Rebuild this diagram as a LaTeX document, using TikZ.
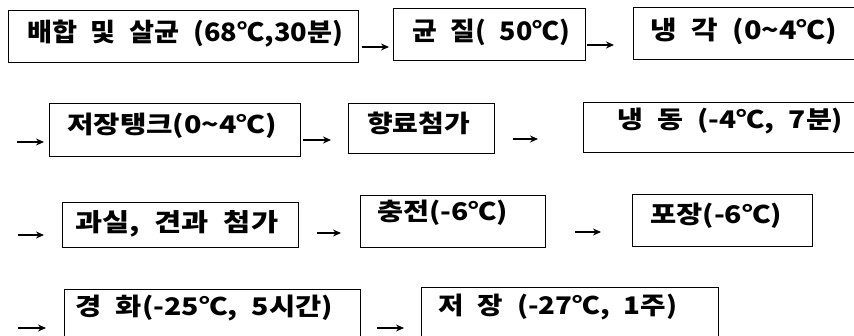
\documentclass[tikz,border=0pt]{standalone}
\usepackage{fontspec}
\usepackage{graphicx}
\newfontfamily\kr{Noto Sans CJK KR}[WordSpace=2.2]
\usetikzlibrary{arrows.meta}
\newcommand\kt[3]{\resizebox{#1pt}{#2pt}{\kr\bfseries #3}}
\newcommand\tld{\string~}
\tikzset{
  box/.style={draw, line width=0.9pt, inner sep=0pt, rectangle},
  txt/.style={anchor=base west, inner sep=0pt},
  arr/.style={line width=1.3pt, -{Stealth[length=8pt,width=7pt]}}
}
\begin{document}
\begin{tikzpicture}[x=1pt,y=1pt]
\useasboundingbox (0,0) rectangle (854,336);
\fill[white] (0,0) rectangle (854,336);
% boxes
\node[box, minimum width=350pt, minimum height=52pt] (b1) at (183,300) {};
\node[box, minimum width=192pt, minimum height=52pt] (b2) at (489,302) {};
\node[box, minimum width=237pt, minimum height=52pt] (b3) at (751.5,303) {};
\node[box, minimum width=251pt, minimum height=53pt] (b4) at (174.5,206.5) {};
\node[box, minimum width=146pt, minimum height=50pt] (b5) at (421,208) {};
\node[box, minimum width=287pt, minimum height=50pt] (b6) at (726.5,209) {};
\node[box, minimum width=236pt, minimum height=45pt] (b7) at (180,111.5) {};
\node[box, minimum width=185pt, minimum height=52pt] (b8) at (452.5,115) {};
\node[box, minimum width=180pt, minimum height=52pt] (b9) at (722,116) {};
\node[box, minimum width=296pt, minimum height=61pt] (b10) at (212,16.5) {};
\node[box, minimum width=297pt, minimum height=63pt] (b11) at (569.5,17.5) {};
% texts
\node[txt] (t1) at (27,294) {\kt{316}{21.5}{배합 및 살균 (68℃,30분)}};
\node[txt] (t2) at (412,295) {\kt{158}{21.5}{균 질( 50℃)}};
\node[txt] (t3) at (650,296) {\kt{187}{21.5}{냉 각 (0\tld 4℃)}};
\node[txt] (t4) at (67,202) {\kt{210}{20.5}{저장탱크(0\tld 4℃)}};
\node[txt] (t5) at (367,203) {\kt{103}{20.5}{향료첨가}};
\node[txt] (t6) at (617,207) {\kt{226}{20.5}{냉 동 (-4℃, 7분)}};
\node[txt] (t7) at (75,104) {\kt{203}{21}{과실, 견과 첨가}};
\node[txt] (t8) at (377,115) {\kt{131}{20.5}{충전(-6℃)}};
\node[txt] (t9) at (650,112) {\kt{132}{20.5}{포장(-6℃)}};
\node[txt] (t10) at (75,20) {\kt{258}{20.5}{경 화(-25℃, 5시간)}};
\node[txt] (t11) at (438,21) {\kt{239}{20.5}{저 장 (-27℃, 1주)}};
% arrow end points
\coordinate (a1s) at (362,289); \coordinate (a1e) at (389,289);
\coordinate (a2s) at (587,291); \coordinate (a2e) at (614,291);
\coordinate (a3s) at (17,194);  \coordinate (a3e) at (44,194);
\coordinate (a4s) at (303,196); \coordinate (a4e) at (331,196);
\coordinate (a5s) at (513,197); \coordinate (a5e) at (538,197);
\coordinate (a6s) at (18,101);  \coordinate (a6e) at (44,101);
\coordinate (a7s) at (317,103); \coordinate (a7e) at (341,103);
\coordinate (a8s) at (575,104); \coordinate (a8e) at (601,104);
\coordinate (a9s) at (18,8);    \coordinate (a9e) at (46,8);
\coordinate (a10s) at (377,8);  \coordinate (a10e) at (404,8);
\foreach \i in {1,...,10} {\draw[arr] (a\i s) -- (a\i e);}
\end{tikzpicture}
\end{document}
